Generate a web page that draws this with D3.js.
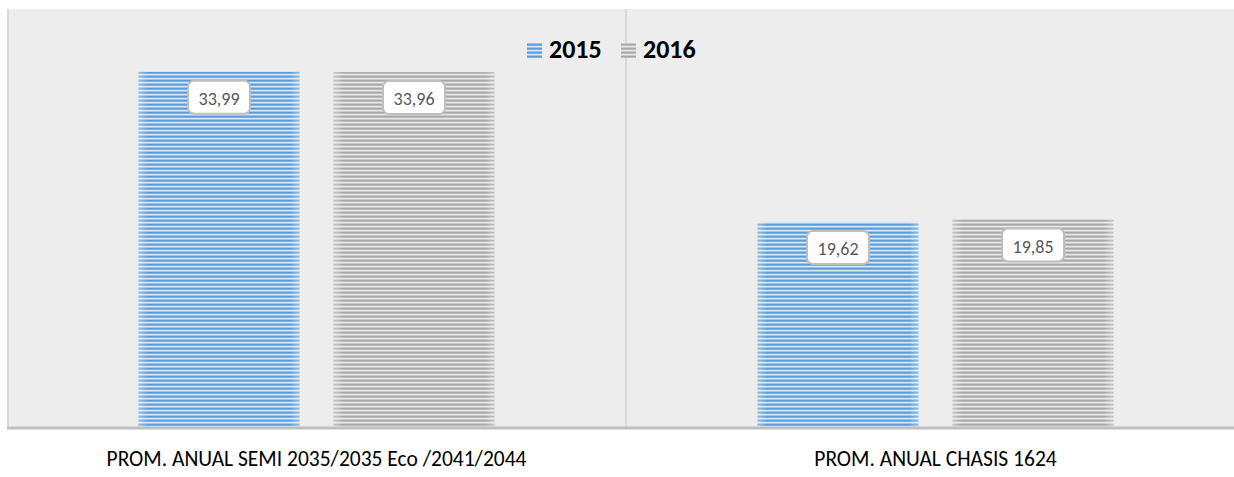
<!DOCTYPE html>
<html>
<head>
<meta charset="utf-8">
<script src="https://cdn.jsdelivr.net/npm/d3@7"></script>
<style>
  html, body { margin: 0; padding: 0; background: #ffffff; }
  svg { display: block; }
</style>
</head>
<body>
<svg id="chart" width="1234" height="477"></svg>
<script>
// Categories, series and values
const categories = ["PROM. ANUAL SEMI 2035/2035 Eco /2041/2044", "PROM. ANUAL CHASIS 1624"];
const seriesNames = ["2015", "2016"];
const values2015 = [33.99, 19.62];
const values2016 = [33.96, 19.85];
const yDomain = [0, 40];

const seriesValues = { "2015": values2015, "2016": values2016 };
const fmt = v => d3.format(".2f")(v).replace(".", ",");
const FONT = "Carlito, Calibri, Lato, 'Liberation Sans', sans-serif";

const svg = d3.select("#chart");
const W = 1234, H = 477;
const plot = { left: 7, right: 1245, top: 9, bottom: 427 };

// Striped fills for the two series
const defs = svg.append("defs");
const stripeSets = {
  "2015": ["#5b9bd5", "#7eb0e1", "#d7e7f6", "#9fc4e8"],
  "2016": ["#a6a6a6", "#bdbdbd", "#e6e6e6", "#cbcbcb"]
};
seriesNames.forEach(s => {
  const p = defs.append("pattern")
    .attr("id", "stripe" + s)
    .attr("patternUnits", "userSpaceOnUse")
    .attr("width", 8).attr("height", 4);
  stripeSets[s].forEach((c, i) => {
    p.append("rect").attr("x", 0).attr("y", i).attr("width", 8).attr("height", 1).attr("fill", c);
  });
  // soft highlight toward the bar edges
  const g = defs.append("linearGradient").attr("id", "edge" + s)
    .attr("x1", "0").attr("x2", "1").attr("y1", "0").attr("y2", "0");
  g.append("stop").attr("offset", "0").attr("stop-color", "#fff").attr("stop-opacity", 0.35);
  g.append("stop").attr("offset", "0.06").attr("stop-color", "#fff").attr("stop-opacity", 0);
  g.append("stop").attr("offset", "0.94").attr("stop-color", "#fff").attr("stop-opacity", 0);
  g.append("stop").attr("offset", "1").attr("stop-color", "#fff").attr("stop-opacity", 0.35);
});

// Scales
const x0 = d3.scaleBand().domain(categories).range([plot.left, plot.right]).paddingInner(0).paddingOuter(0);
const barW = 161, gap = 34;
const x1 = d3.scaleOrdinal().domain(seriesNames).range([
  (x0.bandwidth() - (2 * barW + gap)) / 2,
  (x0.bandwidth() - (2 * barW + gap)) / 2 + barW + gap
]);
const y = d3.scaleLinear().domain(yDomain).range([plot.bottom, plot.top]);

// Plot area background
svg.append("rect")
  .attr("x", plot.left).attr("y", plot.top)
  .attr("width", W - plot.left).attr("height", plot.bottom - plot.top)
  .attr("fill", "#ededed");

// Left edge and category divider
svg.append("rect").attr("x", plot.left).attr("y", plot.top)
  .attr("width", 2).attr("height", plot.bottom - plot.top).attr("fill", "#d9d9d9");
categories.slice(1).forEach(c => {
  svg.append("rect").attr("x", x0(c) - 1).attr("y", plot.top)
    .attr("width", 2).attr("height", plot.bottom - plot.top).attr("fill", "#d9d9d9");
});

// Bars
const groups = svg.selectAll("g.cat").data(categories).join("g")
  .attr("class", "cat")
  .attr("transform", d => `translate(${x0(d)},0)`);

seriesNames.forEach(s => {
  groups.append("rect")
    .attr("x", x1(s)).attr("y", (d, i) => y(seriesValues[s][i]))
    .attr("width", barW).attr("height", (d, i) => y(0) - y(seriesValues[s][i]))
    .attr("fill", `url(#stripe${s})`);
  groups.append("rect")
    .attr("x", x1(s)).attr("y", (d, i) => y(seriesValues[s][i]))
    .attr("width", barW).attr("height", (d, i) => y(0) - y(seriesValues[s][i]))
    .attr("fill", `url(#edge${s})`);
});

// Bottom axis line
const xAxis = svg.append("g").attr("transform", `translate(0,${plot.bottom + 1})`)
  .call(d3.axisBottom(x0).tickSize(0).tickPadding(0).tickFormat(""));
xAxis.select(".domain").attr("stroke", "#bfbfbf").attr("stroke-width", 3)
  .attr("d", `M${plot.left},0H${W}`);

// Category labels
svg.selectAll("text.cat").data(categories).join("text")
  .attr("class", "cat")
  .attr("x", d => x0(d) + x0.bandwidth() / 2)
  .attr("y", 466)
  .attr("text-anchor", "middle")
  .attr("font-family", FONT).attr("font-size", 21.5)
  .attr("fill", "#000")
  .text(d => d);

// Data labels
seriesNames.forEach(s => {
  const lab = groups.append("g")
    .attr("transform", (d, i) => `translate(${x1(s) + barW / 2},${y(seriesValues[s][i]) + 9})`);
  lab.append("rect")
    .attr("x", -31).attr("y", 0).attr("width", 62).attr("height", 33)
    .attr("rx", 6).attr("ry", 6)
    .attr("fill", "#ffffff").attr("stroke", "#bfbfbf").attr("stroke-width", 2);
  lab.append("text")
    .attr("x", 0).attr("y", 24)
    .attr("text-anchor", "middle")
    .attr("font-family", FONT).attr("font-size", 18)
    .attr("fill", "#595959")
    .text((d, i) => fmt(seriesValues[s][i]));
});

// Legend
const legend = svg.append("g").attr("class", "legend");
const legendX = [527, 621];
seriesNames.forEach((s, i) => {
  legend.append("rect").attr("x", legendX[i]).attr("y", 43).attr("width", 15).attr("height", 15)
    .attr("fill", `url(#stripe${s})`);
  legend.append("text").attr("x", legendX[i] + 22).attr("y", 58)
    .attr("font-family", FONT).attr("font-size", 26).attr("font-weight", "bold")
    .attr("fill", "#000").text(s);
});
</script>
</body>
</html>
